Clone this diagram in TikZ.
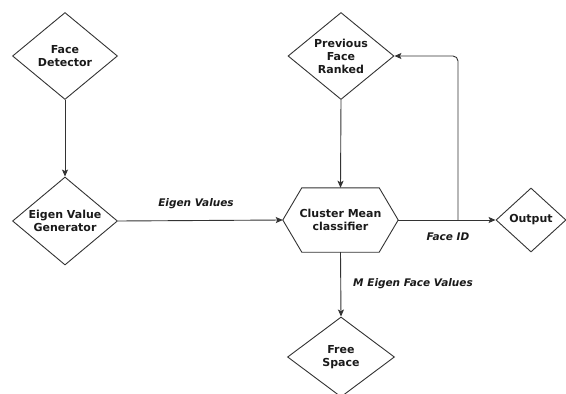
\documentclass[tikz,border=0pt]{standalone}
\usepackage{fontspec}
\setmainfont{DejaVu Sans}
\usetikzlibrary{shapes.geometric,arrows.meta}
\definecolor{linec}{HTML}{333333}
\definecolor{textc}{HTML}{1A1A1A}
\tikzset{
  dia/.style={shape=diamond, draw=linec, line width=0.9pt, inner sep=0pt, shape aspect=1.2,
    align=center, text=textc, font=\fontsize{11}{13}\selectfont\bfseries},
  boxtext/.style={inner sep=0pt, align=center, text=textc, font=\fontsize{11}{13}\selectfont\bfseries},
  conn/.style={draw=linec, line width=0.9pt, -{Stealth[length=7pt,width=6pt,inset=1.5pt]}},
  lbl/.style={inner sep=0pt, text=textc, font=\fontsize{10.5}{12}\selectfont\bfseries\itshape}
}
\begin{document}
\begin{tikzpicture}[x=1pt,y=-1pt]
\useasboundingbox (0,0) rectangle (566,394);
\node[dia, minimum width=105pt, minimum height=87pt] (fd) at (65,56) {Face\\Detector};
\node[dia, minimum width=105pt, minimum height=88pt] (evg) at (65,221) {Eigen Value\\Generator};
\node[dia, minimum width=106pt, minimum height=87pt] (pfr) at (341,56) {Previous\\Face\\Ranked};
\node[boxtext, minimum width=115pt, minimum height=64pt] (cmc) at (340.5,220) {Cluster Mean\\classifier};
\draw[draw=linec, line width=0.9pt] (cmc.west) -- ([xshift=19pt]cmc.north west) -- ([xshift=-19pt]cmc.north east) -- (cmc.east) -- ([xshift=-19pt]cmc.south east) -- ([xshift=19pt]cmc.south west) -- cycle;
\node[dia, minimum width=70pt, minimum height=64pt] (out) at (531,220) {Output};
\node[dia, minimum width=107pt, minimum height=80pt] (fs) at (341,357) {Free\\Space};
\coordinate (split) at (458,220);
\draw[conn] (fd.south) -- (evg.north);
\draw[conn] (evg.east) -- (cmc.west);
\draw[conn] (pfr.south) -- (cmc.north);
\draw[conn] (cmc.east) -- (out.west);
\draw[conn, rounded corners=5pt] (split) |- (pfr.east);
\draw[conn] (cmc.south) -- (fs.north);
\node[lbl] (l1) at (196,204) {Eigen Values};
\node[lbl] (l2) at (448,237) {Face ID};
\node[lbl] (l3) at (413,284) {M Eigen Face Values};
\end{tikzpicture}
\end{document}
